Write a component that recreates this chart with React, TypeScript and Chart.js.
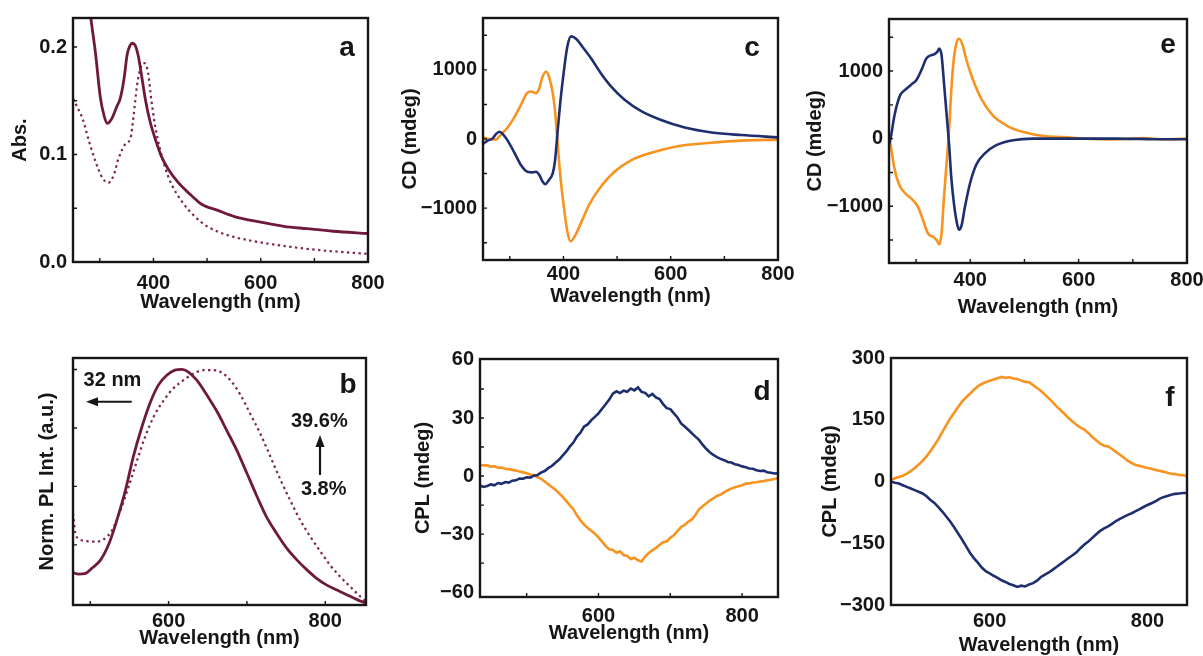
import React, { useEffect, useRef } from "react";
import { Chart, registerables } from "chart.js";
Chart.register(...registerables);

const FONT = '"Liberation Sans", Arial, Helvetica, sans-serif';
const MAROON = "#6f1a3d";
const MAROON_DOT = "#7d2652";
const ORANGE = "#f7931e";
const NAVY = "#1d2f6f";
const INK = "#161616";

// ---------- Panel a: absorbance ----------
const wlAbsSolid = [250, 262, 272, 283, 292, 301, 308, 314, 323, 332, 338, 345, 351, 356, 360, 366, 372, 378, 385, 394, 403, 415, 428, 446, 465, 489, 520, 551, 600, 643, 686, 735, 800];
const absSolid = [0.36, 0.315, 0.275, 0.228, 0.194, 0.153, 0.136, 0.129, 0.134, 0.145, 0.152, 0.17, 0.193, 0.201, 0.2035, 0.2015, 0.191, 0.173, 0.151, 0.13, 0.115, 0.098, 0.086, 0.074, 0.0645, 0.054, 0.048, 0.0423, 0.0371, 0.0332, 0.031, 0.0286, 0.0265];
const wlAbsDot = [250, 254, 268, 280, 292, 305, 316, 326, 335, 348, 357, 363, 369, 377, 383, 390, 396, 403, 412, 422, 434, 452, 477, 502, 538, 582, 631, 692, 748, 800];
const absDot = [0.152, 0.148, 0.133, 0.112, 0.0935, 0.078, 0.0737, 0.081, 0.0965, 0.11, 0.115, 0.136, 0.163, 0.182, 0.185, 0.176, 0.151, 0.127, 0.1056, 0.0874, 0.072, 0.057, 0.0423, 0.0326, 0.025, 0.0198, 0.0158, 0.0119, 0.0094, 0.0076];

// ---------- Panel b: normalised PL ----------
const wlPLSolid = [478, 485, 494, 502, 513, 524, 534, 545, 555, 566, 577, 587, 598, 608, 617, 625, 636, 649, 662, 674, 687, 700, 713, 725, 738, 751, 764, 777, 789, 802, 815, 828, 840, 852];
const plSolid = [0.131, 0.125, 0.128, 0.15, 0.185, 0.256, 0.356, 0.484, 0.627, 0.755, 0.862, 0.933, 0.976, 0.997, 1.0, 0.99, 0.954, 0.89, 0.819, 0.741, 0.655, 0.556, 0.456, 0.37, 0.299, 0.235, 0.185, 0.142, 0.107, 0.078, 0.057, 0.036, 0.017, 0.0];
const wlPLDot = [478, 481, 487, 496, 507, 517, 528, 538, 549, 560, 570, 581, 594, 606, 619, 632, 645, 657, 666, 679, 692, 704, 717, 730, 743, 755, 768, 781, 794, 806, 819, 832, 845, 852];
const plDot = [0.385, 0.3, 0.273, 0.266, 0.264, 0.273, 0.313, 0.392, 0.499, 0.613, 0.712, 0.798, 0.869, 0.919, 0.954, 0.983, 0.997, 0.997, 0.99, 0.954, 0.89, 0.812, 0.726, 0.627, 0.527, 0.442, 0.356, 0.285, 0.221, 0.164, 0.114, 0.071, 0.028, 0.007];

// ---------- Panel c: CD ----------
const wlCdcBlue = [250, 259, 268, 274, 281, 287, 296, 308, 321, 333, 343, 349, 355, 361, 366, 373, 380, 384, 389, 394, 401, 407, 414, 424, 436, 452, 470, 489, 514, 545, 582, 626, 676, 732, 800];
const cdcBlue = [-71, -24, 9, 71, 104, 71, -24, -190, -379, -474, -483, -474, -521, -616, -654, -592, -498, -332, 95, 521, 995, 1327, 1484, 1446, 1327, 1161, 948, 758, 569, 403, 275, 166, 95, 57, 24];
const wlCdcOrange = [250, 262, 274, 284, 296, 308, 321, 332, 340, 349, 355, 361, 368, 374, 380, 384, 389, 394, 401, 407, 413, 420, 433, 448, 470, 495, 526, 564, 613, 669, 732, 800];
const cdcOrange = [24, 0, -9, 71, 166, 308, 498, 664, 687, 664, 735, 901, 972, 877, 664, 427, -47, -521, -995, -1327, -1479, -1422, -1209, -948, -687, -474, -308, -199, -104, -57, -24, -9];

// ---------- Panel e: CD ----------
const wlCdeBlue = [250, 254, 260, 270, 279, 291, 301, 310, 319, 328, 334, 339, 342.5, 347, 351, 356, 361, 365, 370, 375, 379, 384, 390, 399, 411, 427, 448, 479, 516, 578, 670, 740, 800];
const cdeBlue = [-97, 48, 339, 630, 717, 799, 872, 1017, 1187, 1235, 1250, 1283, 1332, 1235, 872, 387, -97, -581, -969, -1235, -1346, -1283, -1017, -678, -387, -218, -97, -24, 0, 0, 0, -8, -10];
const wlCdeOrange = [250, 254, 260, 270, 282, 294, 304, 313, 322, 331, 338, 342.5, 347, 351, 356, 361, 365, 370, 375, 379.5, 386, 393, 405, 421, 442, 467, 498, 535, 572, 609, 660, 690, 720, 760, 800];
const cdeOrange = [48, -145, -436, -702, -823, -910, -1017, -1211, -1404, -1453, -1501, -1564, -1404, -920, -387, 145, 726, 1211, 1429, 1477, 1380, 1162, 872, 581, 339, 194, 97, 39, 24, 0, -12, -6, 8, -10, 0];

// ---------- Panel d: CPL ----------
const wlCplD = [435, 440, 445, 450, 455, 460, 465, 470, 475, 480, 485, 490, 495, 500, 505, 510, 515, 520, 525, 530, 535, 540, 545, 550, 555, 560, 565, 570, 575, 580, 585, 590, 595, 600, 605, 610, 615, 620, 625, 630, 635, 640, 645, 650, 655, 660, 665, 670, 675, 680, 685, 690, 695, 700, 705, 710, 715, 720, 725, 730, 735, 740, 745, 750, 755, 760, 765, 770, 775, 780, 785, 790, 795, 800, 805, 810, 815, 820, 825, 830, 835, 840, 845, 850];
const cpldBlue = [-4.9, -5.6, -5.1, -4.3, -4.8, -3.6, -4.0, -3.1, -3.4, -2.4, -2.2, -1.3, -1.4, -0.6, -0.8, 0.2, 0.5, 1.8, 2.6, 4.1, 5.2, 6.9, 8.4, 10.6, 12.6, 15.2, 17.3, 20.4, 22.5, 25.6, 26.7, 28.9, 30.6, 32.4, 34.8, 37.1, 39.5, 42.6, 43.8, 42.9, 44.1, 43.6, 45.2, 44.3, 45.8, 43.5, 43.0, 41.2, 42.4, 40.6, 39.8, 37.2, 35.1, 34.6, 32.4, 30.3, 27.2, 25.6, 23.9, 22.1, 20.4, 18.7, 16.2, 14.1, 12.3, 10.9, 9.8, 8.9, 8.2, 7.3, 7.0, 6.1, 5.7, 5.0, 4.6, 3.9, 3.8, 3.0, 2.6, 2.8, 2.0, 1.7, 1.3, 1.4];
const cpldOrange = [5.9, 5.5, 5.6, 4.9, 5.0, 4.3, 4.4, 3.8, 3.6, 3.2, 2.9, 2.3, 1.9, 1.5, 0.8, 0.4, -0.5, -1.4, -2.8, -4.2, -5.7, -7.1, -8.9, -10.6, -12.8, -15.0, -17.1, -20.3, -22.9, -25.1, -26.9, -28.3, -29.8, -31.7, -33.9, -36.2, -37.8, -38.2, -39.6, -38.9, -40.8, -41.3, -42.9, -42.2, -43.5, -44.1, -41.6, -39.8, -38.4, -37.1, -35.6, -34.2, -33.8, -31.9, -30.6, -28.4, -26.3, -25.2, -23.6, -22.4, -20.1, -17.2, -15.6, -14.2, -12.6, -11.5, -10.3, -9.6, -8.4, -7.3, -6.5, -5.8, -5.3, -4.7, -3.9, -3.8, -3.3, -3.2, -2.8, -2.6, -2.2, -1.9, -1.5, -1.2];

// ---------- Panel f: CPL ----------
const wlCplF = [475, 480, 485, 490, 495, 500, 505, 510, 515, 520, 525, 530, 535, 540, 545, 550, 555, 560, 565, 570, 575, 580, 585, 590, 595, 600, 605, 610, 615, 620, 625, 630, 635, 640, 645, 650, 655, 660, 665, 670, 675, 680, 685, 690, 695, 700, 705, 710, 715, 720, 725, 730, 735, 740, 745, 750, 755, 760, 765, 770, 775, 780, 785, 790, 795, 800, 805, 810, 815, 820, 825, 830, 835, 840, 845, 850];
const cplfOrange = [4, 8, 11, 14, 19, 25, 33, 41, 50, 61, 74, 88, 103, 120, 137, 153, 167, 181, 194, 204, 213, 223, 231, 237, 241, 245, 248, 251, 254, 252, 253, 250, 249, 245, 242, 241, 234, 227, 220, 211, 202, 192, 182, 173, 164, 154, 146, 138, 131, 126, 118, 108, 100, 92, 87, 85, 79, 72, 65, 58, 50, 45, 40, 38, 35, 33, 31, 28, 26, 24, 21, 19, 18, 16, 15, 14];
const cplfBlue = [0, -3, -5, -9, -13, -17, -21, -25, -29, -36, -45, -52, -62, -73, -85, -97, -111, -126, -141, -157, -173, -186, -197, -209, -218, -223, -229, -234, -240, -244, -249, -252, -256, -253, -255, -250, -247, -241, -232, -226, -221, -214, -207, -200, -193, -186, -179, -172, -162, -153, -146, -137, -128, -120, -114, -109, -103, -96, -91, -86, -81, -77, -72, -67, -62, -57, -53, -48, -42, -38, -35, -32, -30, -29, -28, -28];

// ---------- ticks ----------
const wlTicksCD = [400, 600, 800];
const wlTicksPL = [600, 800];
const absTicks = [0, 0.1, 0.2];
const absTickLabels = ["0.0", "0.1", "0.2"];
const cdTicks = [-1000, 0, 1000];
const cdTickLabels = ["\u22121000", "0", "1000"];
const cplDTicks = [-60, -30, 0, 30, 60];
const cplDTickLabels = ["\u221260", "\u221230", "0", "30", "60"];
const cplFTicks = [-300, -150, 0, 150, 300];
const cplFTickLabels = ["\u2212300", "\u2212150", "0", "150", "300"];

type Series = { x: number[]; y: number[]; color: string; dashed?: boolean; smooth?: boolean; width?: number };
type Note = { text: string; x: number; y: number };
type Arrow = { x1: number; y1: number; x2: number; y2: number };
type PanelDef = {
  L: number; T: number; R: number; B: number;
  titleX: number; xTitleY: number; xTickPad: number;
  xMin: number; xMax: number; yMin: number; yMax: number;
  xTicks: number[]; yTicks: number[]; yTickLabels: string[]; showYLabels: boolean;
  xMinor: number[]; yMinor: number[];
  yTitle: string; letter: string; letterDx: number; letterDy: number;
  series: Series[]; notes: Note[]; arrows: Arrow[];
};

const PANELS: PanelDef[] = [
  {
    L: 73, T: 14, R: 368, B: 262, titleX: 20, xTitleY: 302, xTickPad: 9,
    xMin: 250, xMax: 800, yMin: 0, yMax: 0.227,
    xTicks: wlTicksCD, yTicks: absTicks, yTickLabels: absTickLabels, showYLabels: true,
    xMinor: [300, 400, 500, 600, 700], yMinor: [0.05, 0.1, 0.15, 0.2],
    yTitle: "Abs.", letter: "a", letterDx: -21, letterDy: 38,
    series: [
      { x: wlAbsSolid, y: absSolid, color: MAROON, smooth: true, width: 2.8 },
      { x: wlAbsDot, y: absDot, color: MAROON_DOT, dashed: true, smooth: true, width: 2.2 },
    ],
    notes: [], arrows: [],
  },
  {
    L: 483, T: 14, R: 778, B: 260, titleX: 410, xTitleY: 296, xTickPad: 2,
    xMin: 250, xMax: 800, yMin: -1750, yMax: 1750,
    xTicks: wlTicksCD, yTicks: cdTicks, yTickLabels: cdTickLabels, showYLabels: true,
    xMinor: [300, 400, 500, 600, 700], yMinor: [-1500, -1000, -500, 0, 500, 1000, 1500],
    yTitle: "CD (mdeg)", letter: "c", letterDx: -26, letterDy: 38,
    series: [
      { x: wlCdcBlue, y: cdcBlue, color: NAVY, smooth: true, width: 2.6 },
      { x: wlCdcOrange, y: cdcOrange, color: ORANGE, smooth: true, width: 2.6 },
    ],
    notes: [], arrows: [],
  },
  {
    L: 889, T: 15, R: 1187, B: 263, titleX: 815, xTitleY: 307, xTickPad: 5,
    xMin: 250, xMax: 800, yMin: -1840, yMax: 1770,
    xTicks: wlTicksCD, yTicks: cdTicks, yTickLabels: cdTickLabels, showYLabels: true,
    xMinor: [300, 400, 500, 600, 700], yMinor: [-1500, -1000, -500, 0, 500, 1000, 1500],
    yTitle: "CD (mdeg)", letter: "e", letterDx: -19, letterDy: 34,
    series: [
      { x: wlCdeBlue, y: cdeBlue, color: NAVY, smooth: true, width: 2.6 },
      { x: wlCdeOrange, y: cdeOrange, color: ORANGE, smooth: true, width: 2.6 },
    ],
    notes: [], arrows: [],
  },
  {
    L: 73, T: 358, R: 366, B: 605, titleX: 47, xTitleY: 638, xTickPad: 4,
    xMin: 478, xMax: 852, yMin: -0.007, yMax: 1.049,
    xTicks: wlTicksPL, yTicks: [0, 1], yTickLabels: ["", ""], showYLabels: false,
    xMinor: [500, 600, 700, 800], yMinor: [0.25, 0.5, 0.75, 1.0],
    yTitle: "Norm. PL Int. (a.u.)", letter: "b", letterDx: -18, letterDy: 35,
    series: [
      { x: wlPLSolid, y: plSolid, color: MAROON, smooth: true, width: 2.8 },
      { x: wlPLDot, y: plDot, color: MAROON_DOT, dashed: true, smooth: true, width: 2.2 },
    ],
    notes: [
      { text: "32 nm", x: 528.4, y: 0.955 },
      { text: "39.6%", x: 792.4, y: 0.777 },
      { text: "3.8%", x: 798, y: 0.485 },
    ],
    arrows: [
      { x1: 553, y1: 0.862, x2: 494.6, y2: 0.862 },
      { x1: 793.3, y1: 0.549, x2: 793.3, y2: 0.72 },
    ],
  },
  {
    L: 480, T: 355, R: 778, B: 597, titleX: 423, xTitleY: 633, xTickPad: 7,
    xMin: 435, xMax: 850, yMin: -62.5, yMax: 60.5,
    xTicks: wlTicksPL, yTicks: cplDTicks, yTickLabels: cplDTickLabels, showYLabels: true,
    xMinor: [500, 600, 700, 800], yMinor: [-45, -30, -15, 0, 15, 30, 45],
    yTitle: "CPL (mdeg)", letter: "d", letterDx: -16, letterDy: 41,
    series: [
      { x: wlCplD, y: cpldBlue, color: NAVY, width: 2.6 },
      { x: wlCplD, y: cpldOrange, color: ORANGE, width: 2.6 },
    ],
    notes: [], arrows: [],
  },
  {
    L: 891, T: 354, R: 1187, B: 605, titleX: 830, xTitleY: 645, xTickPad: 4,
    xMin: 475, xMax: 850, yMin: -300, yMax: 300,
    xTicks: wlTicksPL, yTicks: cplFTicks, yTickLabels: cplFTickLabels, showYLabels: true,
    xMinor: [], yMinor: [],
    yTitle: "CPL (mdeg)", letter: "f", letterDx: -17, letterDy: 48,
    series: [
      { x: wlCplF, y: cplfOrange, color: ORANGE, width: 2.6 },
      { x: wlCplF, y: cplfBlue, color: NAVY, width: 2.6 },
    ],
    notes: [], arrows: [],
  },
];

function makeDecor(p: PanelDef) {
  return {
    id: "decor",
    afterDatasetsDraw(chart: any) {
      const { ctx, chartArea: ca, scales } = chart;
      const xs = scales.x;
      const ys = scales.y;
      ctx.save();
      ctx.strokeStyle = INK;
      ctx.lineWidth = 1.4;
      ctx.beginPath();
      for (const v of p.xMinor) {
        const px = xs.getPixelForValue(v);
        ctx.moveTo(px, ca.bottom);
        ctx.lineTo(px, ca.bottom - 4);
      }
      for (const v of p.yMinor) {
        const py = ys.getPixelForValue(v);
        ctx.moveTo(ca.left, py);
        ctx.lineTo(ca.left + 4, py);
      }
      ctx.stroke();
      ctx.lineWidth = 2.4;
      ctx.strokeRect(ca.left, ca.top, ca.right - ca.left, ca.bottom - ca.top);
      ctx.fillStyle = INK;
      ctx.textAlign = "center";
      ctx.textBaseline = "alphabetic";
      ctx.font = `bold 28px ${FONT}`;
      ctx.fillText(p.letter, ca.right + p.letterDx, ca.top + p.letterDy);
      ctx.font = `bold 20px ${FONT}`;
      ctx.textBaseline = "middle";
      for (const n of p.notes) {
        ctx.fillText(n.text, xs.getPixelForValue(n.x), ys.getPixelForValue(n.y));
      }
      for (const a of p.arrows) {
        const x1 = xs.getPixelForValue(a.x1), y1 = ys.getPixelForValue(a.y1);
        const x2 = xs.getPixelForValue(a.x2), y2 = ys.getPixelForValue(a.y2);
        const ang = Math.atan2(y2 - y1, x2 - x1);
        const hl = 12, hw = 4.5;
        const bx = x2 - hl * Math.cos(ang), by = y2 - hl * Math.sin(ang);
        ctx.lineWidth = 2.2;
        ctx.beginPath();
        ctx.moveTo(x1, y1);
        ctx.lineTo(bx, by);
        ctx.stroke();
        ctx.beginPath();
        ctx.moveTo(x2, y2);
        ctx.lineTo(bx + hw * Math.sin(ang), by - hw * Math.cos(ang));
        ctx.lineTo(bx - hw * Math.sin(ang), by + hw * Math.cos(ang));
        ctx.closePath();
        ctx.fill();
      }
      ctx.restore();
    },
  };
}

function PanelChart({ p }: { p: PanelDef }) {
  const ref = useRef<HTMLCanvasElement>(null);
  const cl = p.titleX - 14;
  const ct = p.T - 14;
  const cr = p.R + 26;
  const cb = p.xTitleY + 14;
  const w = cr - cl;
  const h = cb - ct;
  useEffect(() => {
    const font = { family: FONT, size: 20, weight: "bold" as const };
    const chart = new Chart(ref.current as HTMLCanvasElement, {
      type: "line",
      data: {
        datasets: p.series.map((s) => ({
          data: s.x.map((x, i) => ({ x, y: s.y[i] })),
          borderColor: s.color,
          backgroundColor: s.color,
          borderWidth: s.width ?? 2.6,
          borderDash: s.dashed ? [2.4, 3.4] : [],
          pointRadius: 0,
          fill: false,
          tension: 0,
          cubicInterpolationMode: s.smooth ? "monotone" : "default",
        })) as any,
      },
      options: {
        animation: false,
        responsive: false,
        maintainAspectRatio: false,
        layout: { padding: { left: 0, top: p.T - ct, right: cr - p.R, bottom: 0 } },
        plugins: { legend: { display: false }, tooltip: { enabled: false } },
        scales: {
          x: {
            type: "linear",
            min: p.xMin,
            max: p.xMax,
            grid: { display: false, drawTicks: false },
            border: { display: false },
            afterBuildTicks: (s: any) => {
              s.ticks = p.xTicks.map((v) => ({ value: v }));
            },
            afterFit: (s: any) => {
              s.height = cb - p.B;
            },
            ticks: {
              padding: p.xTickPad,
              color: INK,
              font,
              maxRotation: 0,
              autoSkip: false,
              callback: (v: any) => String(v),
            },
            title: { display: true, text: "Wavelength (nm)", color: INK, font, padding: { top: 0, bottom: 2 } },
          },
          y: {
            type: "linear",
            min: p.yMin,
            max: p.yMax,
            grid: { display: false, drawTicks: false },
            border: { display: false },
            afterBuildTicks: (s: any) => {
              s.ticks = p.yTicks.map((v) => ({ value: v }));
            },
            afterFit: (s: any) => {
              s.width = p.L - cl;
            },
            ticks: {
              display: p.showYLabels,
              padding: 6,
              color: INK,
              font,
              callback: (v: any) => {
                const i = p.yTicks.indexOf(Number(v));
                return i >= 0 ? p.yTickLabels[i] : "";
              },
            },
            title: { display: true, text: p.yTitle, color: INK, font, padding: { top: 2, bottom: 0 } },
          },
        },
      },
      plugins: [makeDecor(p)],
    });
    return () => chart.destroy();
  }, []);
  return (
    <canvas
      ref={ref}
      width={w}
      height={h}
      style={{ position: "absolute", left: cl, top: ct, width: w, height: h }}
    />
  );
}

export default function App() {
  Chart.defaults.font.family = FONT;
  return (
    <div
      style={{
        position: "fixed",
        left: 0,
        top: 0,
        width: 1203,
        height: 656,
        background: "#ffffff",
        overflow: "hidden",
      }}
    >
      {PANELS.map((p, i) => (
        <PanelChart key={i} p={p} />
      ))}
    </div>
  );
}
